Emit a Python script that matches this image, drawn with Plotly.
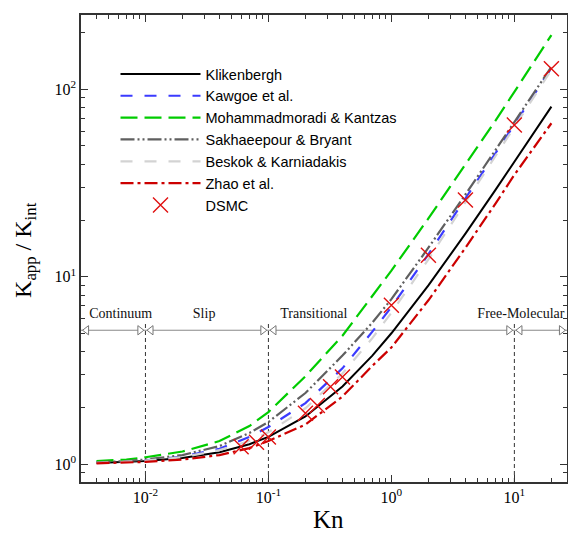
import numpy as np
import plotly.graph_objects as go

# ---------------- data ----------------
kn = [0.004, 0.007, 0.01, 0.02, 0.04, 0.07, 0.1, 0.2, 0.4, 0.7, 1, 2, 4, 7, 10, 20]

klinkenberg = [1.016, 1.028, 1.04, 1.08, 1.16, 1.28, 1.4, 1.8, 2.6, 3.8, 5.0, 9.0, 17.0, 29.0, 41.0, 81.0]
kawgoe = [1.02, 1.035, 1.05, 1.10, 1.21, 1.40, 1.58, 2.12, 3.25, 5.1, 6.9, 13.2, 26.0, 45.5, 65.0, 130.0]
mohammadmoradi = [1.04, 1.06, 1.09, 1.17, 1.33, 1.60, 1.90, 2.95, 4.85, 7.9, 10.8, 20.5, 39.5, 68.0, 97.0, 195.0]
sakhaeepour = [1.025, 1.04, 1.06, 1.12, 1.25, 1.47, 1.68, 2.40, 3.80, 5.7, 7.6, 14.3, 27.5, 47.0, 67.0, 132.0]
beskok = [1.017, 1.03, 1.045, 1.09, 1.19, 1.33, 1.48, 1.99, 3.05, 4.71, 6.44, 12.4, 24.9, 44.2, 63.6, 127.0]
zhao = [1.012, 1.02, 1.03, 1.06, 1.12, 1.22, 1.33, 1.63, 2.30, 3.35, 4.2, 7.5, 14.3, 24.5, 35.0, 66.0]

dsmc_kn = [0.06, 0.08, 0.1, 0.2, 0.25, 0.32, 0.4, 1.0, 2.0, 4.0, 10.0, 20.0]
dsmc_k = [1.24, 1.31, 1.40, 1.87, 2.06, 2.59, 2.92, 7.06, 13.05, 25.7, 64.5, 129.0]

regions = ["Continuum", "Slip", "Transitional", "Free-Molecular"]
region_label_kn = [0.0063, 0.030, 0.234, 11.3]
boundaries = [0.01, 0.1, 10]

x_ticks = [0.01, 0.1, 1, 10]
x_ticktext = ["10<sup>-2</sup>", "10<sup>-1</sup>", "10<sup>0</sup>", "10<sup>1</sup>"]
y_ticks = [1, 10, 100]
y_ticktext = ["10<sup>0</sup>", "10<sup>1</sup>", "10<sup>2</sup>"]

# ---------------- layout constants ----------------
X_RANGE = [-2.524, 1.428]
Y_RANGE = [-0.0945, 2.397]
REGION_Y = 5.19
LABEL_Y = 6.3
VLINE_TOP = 5.75

SERIF = "Liberation Serif, Times New Roman, serif"
SANS = "Liberation Sans, Arial, sans-serif"

fig = go.Figure()

# region separators (vertical dashed lines)
for b in boundaries:
    fig.add_trace(go.Scatter(x=[b, b], y=[10 ** Y_RANGE[0], VLINE_TOP], mode="lines",
                             line=dict(color="#333333", width=1, dash="4px,3px"),
                             showlegend=False, hoverinfo="skip"))

# region horizontal line with hollow arrowheads
xmin = 10 ** X_RANGE[0]
xmax = 10 ** X_RANGE[1]
fig.add_trace(go.Scatter(x=[xmin, xmax], y=[REGION_Y, REGION_Y], mode="lines",
                         line=dict(color="#888888", width=1), showlegend=False, hoverinfo="skip"))
f = 1.11
left_pts = [xmin * f] + [b * f for b in boundaries]
right_pts = [b / f for b in boundaries] + [xmax / f]
fig.add_trace(go.Scatter(x=left_pts, y=[REGION_Y] * len(left_pts), mode="markers",
                         marker=dict(symbol="triangle-left", size=8, color="white",
                                     line=dict(color="#777777", width=1)),
                         showlegend=False, hoverinfo="skip"))
fig.add_trace(go.Scatter(x=right_pts, y=[REGION_Y] * len(right_pts), mode="markers",
                         marker=dict(symbol="triangle-right", size=8, color="white",
                                     line=dict(color="#777777", width=1)),
                         showlegend=False, hoverinfo="skip"))
fig.add_trace(go.Scatter(x=region_label_kn, y=[LABEL_Y] * len(regions), mode="text",
                         text=regions, textfont=dict(family=SERIF, size=14, color="#111111"),
                         cliponaxis=False, showlegend=False, hoverinfo="skip"))

# model curves
fig.add_trace(go.Scatter(x=kn, y=klinkenberg, mode="lines", name="Klikenbergh",
                         line=dict(color="black", width=2)))
fig.add_trace(go.Scatter(x=kn, y=kawgoe, mode="lines", name="Kawgoe et al.",
                         line=dict(color="#3b3bff", width=2.2, dash="12px,12px")))
fig.add_trace(go.Scatter(x=kn, y=mohammadmoradi, mode="lines", name="Mohammadmoradi &amp; Kantzas",
                         line=dict(color="#00cc00", width=2.2, dash="17px,7px")))
fig.add_trace(go.Scatter(x=kn, y=sakhaeepour, mode="lines", name="Sakhaeepour &amp; Bryant",
                         line=dict(color="#5f5f5f", width=2.2, dash="14px,3px,2px,3px,2px,3px")))
fig.add_trace(go.Scatter(x=kn, y=beskok, mode="lines", name="Beskok &amp; Karniadakis",
                         line=dict(color="#d3d3d3", width=2.2, dash="12px,12px")))
fig.add_trace(go.Scatter(x=kn, y=zhao, mode="lines", name="Zhao et al.",
                         line=dict(color="#cc0000", width=2.2, dash="13px,4px,3px,4px")))
fig.add_trace(go.Scatter(x=dsmc_kn, y=dsmc_k, mode="markers", name="DSMC",
                         marker=dict(symbol="x-thin", size=15,
                                     line=dict(color="#e01010", width=1.4))))

axis_common = dict(
    type="log", showgrid=False, zeroline=False, showline=True, automargin=False,
    linecolor="#333333", linewidth=1.5, mirror="ticks",
    ticks="inside", ticklen=7, tickcolor="#333333", tickwidth=1,
    tickmode="array", tickfont=dict(family=SERIF, size=16, color="black"),
)

x_minor = [m * 10.0 ** d for d in range(-3, 2) for m in range(2, 10)]
x_minor = [v for v in x_minor if 10 ** X_RANGE[0] <= v <= 10 ** X_RANGE[1]]
y_minor = [m * 10.0 ** d for d in range(-1, 3) for m in range(2, 10)]
y_minor = [v for v in y_minor if 10 ** Y_RANGE[0] <= v <= 10 ** Y_RANGE[1]]

fig.update_xaxes(**axis_common, range=X_RANGE, tickvals=x_ticks, ticktext=x_ticktext,
                 minor=dict(tickmode="array", tickvals=x_minor, ticks="inside", ticklen=4,
                            tickcolor="#333333", showgrid=False))
fig.update_yaxes(**axis_common, range=Y_RANGE, tickvals=y_ticks, ticktext=y_ticktext,
                 minor=dict(tickmode="array", tickvals=y_minor, ticks="inside", ticklen=4,
                            tickcolor="#333333", showgrid=False))

fig.add_annotation(text="Kn", xref="paper", yref="paper", x=0.509, y=-0.080,
                   xanchor="center", yanchor="middle", showarrow=False,
                   font=dict(family=SERIF, size=25, color="black"))
fig.add_annotation(text="K<sub>app</sub> / K<sub>int</sub>", xref="paper", yref="paper",
                   x=-0.114, y=0.496, xanchor="center", yanchor="middle", textangle=-90,
                   showarrow=False, font=dict(family=SERIF, size=24, color="black"))

fig.update_layout(
    width=568, height=534,
    margin=dict(l=81, r=1, t=15, b=52),
    paper_bgcolor="white", plot_bgcolor="white",
    showlegend=True,
    legend=dict(x=0.071, y=0.908, xanchor="left", yanchor="top",
                bgcolor="rgba(0,0,0,0)", borderwidth=0, itemwidth=80,
                tracegroupgap=0, font=dict(family=SANS, size=14.5, color="black")),
)

fig.write_html("out.html", config={"displayModeBar": False},
               post_script="document.body.style.margin='0px';document.body.style.overflow='hidden';")
